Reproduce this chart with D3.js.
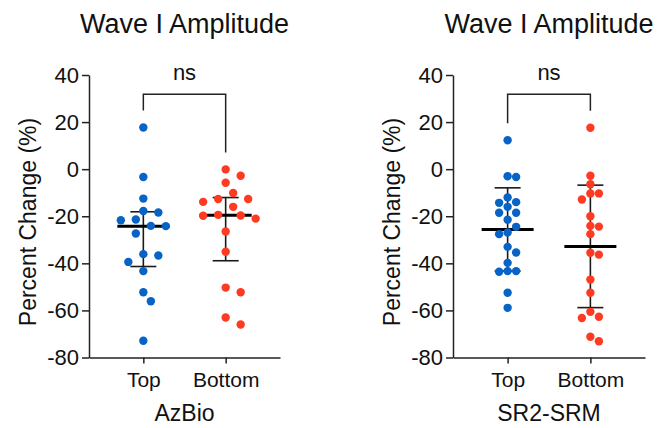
<!DOCTYPE html>
<html>
<head>
<meta charset="utf-8">
<script src="https://cdn.jsdelivr.net/npm/d3@7"></script>
<style>
  html, body { margin: 0; padding: 0; background: #fff; }
  svg { display: block; font-family: "Liberation Sans", Arial, Helvetica, sans-serif; }
</style>
</head>
<body>
<svg id="chart" width="658" height="428"></svg>
<script>
// ---------------- DATA ----------------
const categories = ["Top", "Bottom"];
const yTicks = [40, 20, 0, -20, -40, -60, -80];
const chartTitle = "Wave I Amplitude";
const yLabel = "Percent Change (%)";
const panelLabels = ["AzBio", "SR2-SRM"];
const sigLabel = "ns";

const azbioTop = [17.7, -3.3, -12.5, -17.8, -18.4, -21.4, -21.7, -24.1, -24.2, -27.3,
                  -36.1, -36.7, -39.4, -43.3, -52.3, -56.1, -72.9];
const azbioBottom = [-0.1, -2.8, -5.8, -10.1, -12.7, -12.7, -13.9, -16.0, -21.0, -19.7,
                     -19.4, -19.8, -26.5, -35.1, -52.3, -50.3, -66.0, -63.0];
const srmTop = [12.3, -3.3, -3.0, -12.0, -14.0, -14.3, -16.0, -18.5, -18.5, -21.5, -24.5,
                -26.9, -27.6, -33.0, -35.4, -39.8, -43.3, -43.3, -43.6, -52.5, -58.9];
const srmBottom = [17.6, -2.8, -6.4, -10.3, -10.3, -12.9, -20.0, -24.4, -24.1, -27.6,
                   -35.5, -36.3, -46.9, -52.5, -60.6, -62.7, -63.2, -73.1, -71.2];
// summary shown: AzBio = median with interquartile range, SR2-SRM = mean with SD
const summaryType = ["median", "mean"];

// ---------------- LAYOUT ----------------
const colors = { Top: "#0863C6", Bottom: "#FF3A22" };
const ink = "#1a1a1a";
const panels = [
  { label: panelLabels[0], series: { Top: azbioTop, Bottom: azbioBottom }, stat: summaryType[0],
    x0: 89, x1: 280, half: 7.5, minD: 11, ylabX: 36 },
  { label: panelLabels[1], series: { Top: srmTop, Bottom: srmBottom }, stat: summaryType[1],
    x0: 453, x1: 645, half: 8.5, minD: 8.2, ylabX: 400 }
];
const yTop = 75, yBot = 357.5;
const r = 4.2;

const svg = d3.select("#chart");

function gpQuantile(arr, p) {
  const s = arr.slice().sort((a, b) => a - b);
  const n = s.length;
  const pos = (n + 1) * p;
  const lo = Math.floor(pos);
  const frac = pos - lo;
  if (lo < 1) return s[0];
  if (lo >= n) return s[n - 1];
  return s[lo - 1] + frac * (s[lo] - s[lo - 1]);
}

function swarm(values, cx, y, half, minD) {
  const idx = values.map((v, i) => i).sort((a, b) => values[b] - values[a]);
  const placed = [];
  const out = new Array(values.length);
  const order = [0];
  for (let k = 1; k <= 8; k++) { order.push(k, -k); }
  idx.forEach(i => {
    const py = y(values[i]);
    for (const k of order) {
      const px = cx + k * half;
      const ok = placed.every(p => Math.hypot(p.x - px, p.y - py) >= minD);
      if (ok) { placed.push({ x: px, y: py }); out[i] = { x: px, y: py, v: values[i] }; break; }
    }
  });
  return out;
}

const y = d3.scaleLinear().domain([-80, 40]).range([yBot, yTop]);

panels.forEach(pn => {
  const g = svg.append("g");
  const x = d3.scalePoint().domain(categories).range([pn.x0, pn.x1]).padding(0.66);
  const mid = (pn.x0 + pn.x1) / 2;

  // title
  g.append("text").attr("x", mid).attr("y", 33).attr("text-anchor", "middle")
    .attr("font-size", 27).attr("fill", "#111").text(chartTitle);

  // y axis
  const ya = g.append("g").attr("transform", `translate(${pn.x0},0)`)
    .call(d3.axisLeft(y).tickValues(yTicks).tickSize(7).tickSizeOuter(0).tickPadding(3)
      .tickFormat(d => String(d)));
  ya.selectAll("text").attr("font-size", 22).attr("fill", "#111")
    .attr("font-family", "'Liberation Sans', Arial, sans-serif");
  ya.selectAll("path, line").attr("stroke", "#222").attr("stroke-width", 1.5);

  // x axis
  const xa = g.append("g").attr("transform", `translate(0,${yBot})`)
    .call(d3.axisBottom(x).tickSize(6).tickSizeOuter(0).tickPadding(9));
  xa.selectAll("text").attr("font-size", 21).attr("fill", "#111")
    .attr("font-family", "'Liberation Sans', Arial, sans-serif");
  xa.selectAll("path, line").attr("stroke", "#222").attr("stroke-width", 1.5);

  // y label
  g.append("text").attr("transform", `translate(${pn.ylabX},222) rotate(-90)`)
    .attr("text-anchor", "middle").attr("font-size", 23).attr("fill", "#111").text(yLabel);

  // x group label
  g.append("text").attr("x", mid).attr("y", 421).attr("text-anchor", "middle")
    .attr("font-size", 23).attr("fill", "#111").text(pn.label);

  // significance bracket
  const bx1 = x(categories[0]), bx2 = x(categories[1]);
  const yb = y(31.8);
  const leg1 = y(d3.max(pn.series[categories[0]]) + 7.2);
  const leg2 = y(d3.max(pn.series[categories[1]]) + 7.2);
  g.append("path")
    .attr("d", `M${bx1},${leg1}V${yb}H${bx2}V${leg2}`)
    .attr("fill", "none").attr("stroke", "#222").attr("stroke-width", 1.5);
  g.append("text").attr("x", (bx1 + bx2) / 2).attr("y", 80).attr("text-anchor", "middle")
    .attr("font-size", 22).attr("fill", "#111").text(sigLabel);

  // summary bars then points
  categories.forEach(cat => {
    const vals = pn.series[cat];
    const cx = x(cat);
    let center, lo, hi;
    if (pn.stat === "median") {
      center = d3.median(vals);
      lo = gpQuantile(vals, 0.25);
      hi = gpQuantile(vals, 0.75);
    } else {
      center = d3.mean(vals);
      const sd = d3.deviation(vals);
      lo = center - sd; hi = center + sd;
    }
    const sg = g.append("g");
    sg.append("line").attr("x1", cx).attr("x2", cx).attr("y1", y(hi)).attr("y2", y(lo))
      .attr("stroke", ink).attr("stroke-width", 1.6);
    [hi, lo].forEach(v => {
      sg.append("line").attr("x1", cx - 13).attr("x2", cx + 13).attr("y1", y(v)).attr("y2", y(v))
        .attr("stroke", ink).attr("stroke-width", 1.6);
    });
    sg.append("line").attr("x1", cx - 26).attr("x2", cx + 26).attr("y1", y(center)).attr("y2", y(center))
      .attr("stroke", "#000").attr("stroke-width", 3);

    const pts = swarm(vals, cx, y, pn.half, pn.minD);
    g.append("g").selectAll("circle").data(pts).join("circle")
      .attr("cx", d => d.x).attr("cy", d => d.y).attr("r", r)
      .attr("fill", colors[cat]);
  });
});
</script>
</body>
</html>
